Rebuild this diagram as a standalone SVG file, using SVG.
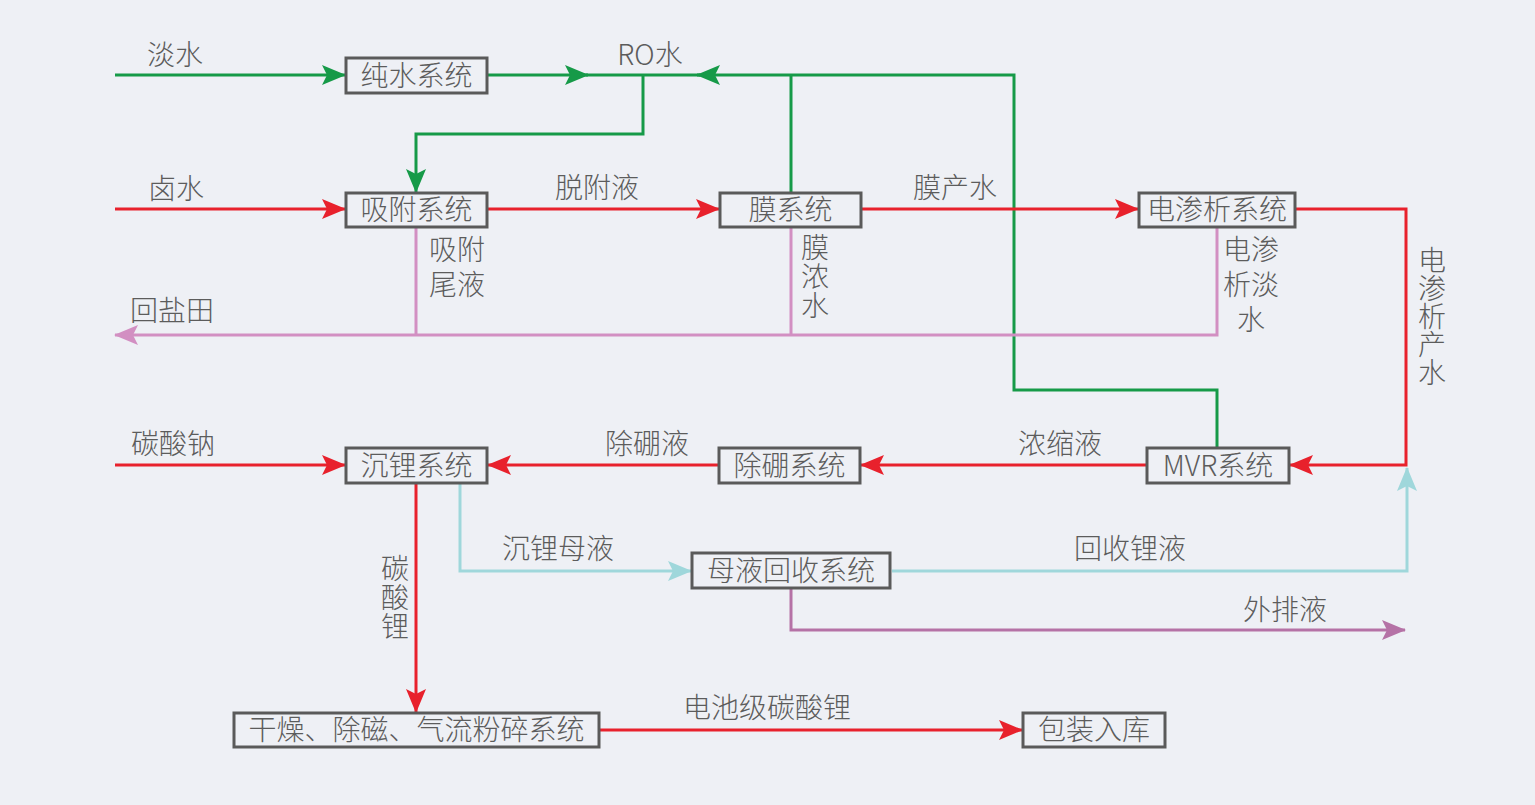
<svg xmlns="http://www.w3.org/2000/svg" width="1535" height="805" viewBox="0 0 1535 805">
<style>
.bg{fill:#eef0f5}
.box{fill:#eef0f5;stroke:#5a5a5a;stroke-width:3}
.t{font-family:"Noto Sans CJK SC","Liberation Sans",sans-serif;font-size:28px;font-weight:300;fill:#5c5c5c;text-anchor:middle;dominant-baseline:central}
.v{writing-mode:vertical-rl;text-anchor:start}
.c{fill:none;stroke-width:3}
.g{stroke:#169a48}
.r{stroke:#e8212c}
.p{stroke:#d28fc2}
.cy{stroke:#9fd7db}
.m{stroke:#b572a6}
</style>
<defs>
<marker id="ag" viewBox="0 0 24 20" refX="23" refY="10" markerWidth="24" markerHeight="20" markerUnits="userSpaceOnUse" orient="auto"><path d="M0,0 L24,10 L0,20 L5,10 z" fill="#169a48"/></marker>
<marker id="ar" viewBox="0 0 24 20" refX="23" refY="10" markerWidth="24" markerHeight="20" markerUnits="userSpaceOnUse" orient="auto"><path d="M0,0 L24,10 L0,20 L5,10 z" fill="#e8212c"/></marker>
<marker id="ap" viewBox="0 0 24 20" refX="23" refY="10" markerWidth="24" markerHeight="20" markerUnits="userSpaceOnUse" orient="auto"><path d="M0,0 L24,10 L0,20 L5,10 z" fill="#d28fc2"/></marker>
<marker id="ac" viewBox="0 0 24 20" refX="23" refY="10" markerWidth="24" markerHeight="20" markerUnits="userSpaceOnUse" orient="auto"><path d="M0,0 L24,10 L0,20 L5,10 z" fill="#9fd7db"/></marker>
<marker id="am" viewBox="0 0 24 20" refX="23" refY="10" markerWidth="24" markerHeight="20" markerUnits="userSpaceOnUse" orient="auto"><path d="M0,0 L24,10 L0,20 L5,10 z" fill="#b572a6"/></marker>
</defs>
<rect class="bg" x="0" y="0" width="1535" height="805"/>
<g id="connectors">
<path class="c g" d="M115,75 H345" marker-end="url(#ag)"/>
<path class="c g" d="M488,75 H588" marker-end="url(#ag)"/>
<path class="c g" d="M586,75 H700"/>
<path class="c g" d="M643,75 V134 H416 V192" marker-end="url(#ag)"/>
<path class="c g" d="M791,193 V75"/>
<path class="c g" d="M1217,448 V390 H1014 V75 H697" marker-end="url(#ag)"/>
<path class="c r" d="M115,209 H345" marker-end="url(#ar)"/>
<path class="c r" d="M488,209 H719" marker-end="url(#ar)"/>
<path class="c r" d="M862,209 H1138" marker-end="url(#ar)"/>
<path class="c r" d="M1296,209 H1406 V465 H1290" marker-end="url(#ar)"/>
<path class="c p" d="M416,228 V335"/>
<path class="c p" d="M791,228 V335"/>
<path class="c p" d="M1217,228 V335 H115" marker-end="url(#ap)"/>
<path class="c r" d="M1146,465 H861" marker-end="url(#ar)"/>
<path class="c r" d="M718,465 H488" marker-end="url(#ar)"/>
<path class="c r" d="M115,465 H345" marker-end="url(#ar)"/>
<path class="c r" d="M416,484 V712" marker-end="url(#ar)"/>
<path class="c cy" d="M460,484 V571 H691" marker-end="url(#ac)"/>
<path class="c cy" d="M892,571 H1407 V468" marker-end="url(#ac)"/>
<path class="c m" d="M791,589 V630 H1405" marker-end="url(#am)"/>
<path class="c r" d="M600,730 H1022" marker-end="url(#ar)"/>
</g>
<g id="n-chunshui"><rect class="box" x="346" y="58" width="141" height="35"/><text class="t" x="416.5" y="73.5">纯水系统</text></g>
<g id="n-xifu"><rect class="box" x="346" y="193" width="141" height="34"/><text class="t" x="416.5" y="208">吸附系统</text></g>
<g id="n-mo"><rect class="box" x="720" y="193" width="141" height="34"/><text class="t" x="790.5" y="208">膜系统</text></g>
<g id="n-dianshenxi"><rect class="box" x="1139" y="193" width="156" height="34"/><text class="t" x="1217" y="208">电渗析系统</text></g>
<g id="n-mvr"><rect class="box" x="1147" y="448" width="142" height="35"/><text class="t" x="1218" y="463.5">MVR系统</text></g>
<g id="n-chupeng"><rect class="box" x="719" y="448" width="141" height="35"/><text class="t" x="789.5" y="463.5">除硼系统</text></g>
<g id="n-chenli"><rect class="box" x="346" y="448" width="141" height="35"/><text class="t" x="416.5" y="463.5">沉锂系统</text></g>
<g id="n-muye"><rect class="box" x="692" y="553" width="198" height="35"/><text class="t" x="791" y="568.5">母液回收系统</text></g>
<g id="n-ganzao"><rect class="box" x="234" y="713" width="365" height="34"/><text class="t" x="416.5" y="728">干燥、除磁、气流粉碎系统</text></g>
<g id="n-baozhuang"><rect class="box" x="1023" y="713" width="142" height="34"/><text class="t" x="1094" y="728">包装入库</text></g>
<g id="labels">
<text class="t" x="175" y="53">淡水</text>
<text class="t" x="650" y="53">RO水</text>
<text class="t" x="176" y="187">卤水</text>
<text class="t" x="597" y="186">脱附液</text>
<text class="t" x="955" y="186">膜产水</text>
<text class="t" x="457" y="248">吸附</text>
<text class="t" x="457" y="283">尾液</text>
<text class="t v" x="815" y="233" style="letter-spacing:1px">膜浓水</text>
<text class="t" x="1251" y="248">电渗</text>
<text class="t" x="1251" y="283">析淡</text>
<text class="t" x="1251" y="318">水</text>
<text class="t v" x="1432" y="246">电渗析产水</text>
<text class="t" x="172" y="309">回盐田</text>
<text class="t" x="173" y="442">碳酸钠</text>
<text class="t" x="647" y="442">除硼液</text>
<text class="t" x="1060" y="442">浓缩液</text>
<text class="t" x="558" y="547">沉锂母液</text>
<text class="t" x="1130" y="547">回收锂液</text>
<text class="t" x="1285" y="608">外排液</text>
<text class="t v" x="395" y="554" style="letter-spacing:1px">碳酸锂</text>
<text class="t" x="767" y="706">电池级碳酸锂</text>
</g>
</svg>
